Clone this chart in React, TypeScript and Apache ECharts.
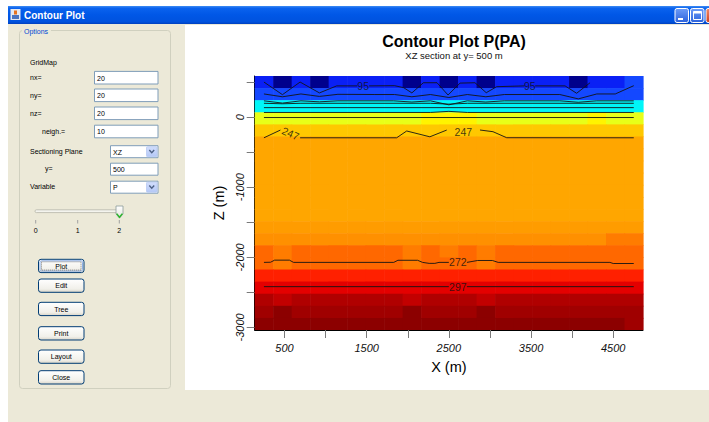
import React, { useEffect, useRef } from "react";
import * as echarts from "echarts";

// ---------- data ----------
const xNodes = [250, 475, 700, 925, 1150, 1375, 1600, 1825, 2050, 2275, 2500, 2725, 2950, 3175, 3400, 3625, 3850, 4075, 4300, 4525, 4750];
const zNodes = [500, 327.5, 155, -17.5, -190, -362.5, -535, -707.5, -880, -1052.5, -1225, -1397.5, -1570, -1742.5, -1915, -2087.5, -2260, -2432.5, -2605, -2777.5, -2950];

// pressure per cell (rows from top z=500 to bottom z=-2950, columns along x)
const pRows = [
  [85, 60, 85, 60, 85, 85, 85, 85, 60, 85, 60, 85, 60, 85, 80, 80, 85, 60, 88, 88, 105],
  [115, 115, 115, 115, 115, 115, 115, 115, 115, 115, 115, 115, 115, 115, 115, 115, 115, 115, 115, 115, 115],
  [170, 170, 170, 170, 170, 170, 170, 170, 170, 170, 170, 170, 170, 170, 170, 170, 170, 170, 170, 170, 170],
  [212, 212, 212, 212, 212, 212, 212, 212, 212, 228, 228, 228, 212, 212, 212, 212, 212, 212, 228, 212, 212],
  [240, 240, 240, 240, 240, 240, 240, 240, 240, 240, 240, 240, 240, 240, 240, 240, 240, 240, 240, 240, 240],
  [252, 252, 252, 252, 252, 252, 252, 252, 252, 252, 252, 252, 252, 252, 252, 252, 252, 252, 252, 252, 252],
  [252, 252, 252, 252, 252, 252, 252, 252, 252, 252, 252, 252, 252, 252, 252, 252, 252, 252, 252, 252, 252],
  [252, 252, 252, 252, 252, 252, 252, 252, 252, 252, 252, 252, 252, 252, 252, 252, 252, 252, 252, 252, 252],
  [252, 252, 252, 252, 252, 252, 252, 252, 252, 252, 252, 252, 252, 252, 252, 252, 252, 252, 252, 252, 252],
  [252, 252, 252, 252, 252, 252, 252, 252, 252, 252, 252, 252, 252, 252, 252, 252, 252, 252, 252, 252, 252],
  [252, 252, 252, 252, 252, 252, 252, 252, 252, 252, 252, 252, 252, 252, 252, 252, 252, 252, 252, 252, 252],
  [252, 252, 252, 252, 252, 252, 252, 252, 252, 252, 252, 252, 252, 252, 252, 252, 252, 252, 252, 252, 252],
  [260, 260, 260, 260, 260, 260, 260, 260, 260, 260, 260, 260, 260, 260, 260, 260, 260, 260, 260, 260, 260],
  [265, 265, 265, 265, 265, 265, 265, 265, 265, 265, 265, 265, 265, 265, 265, 265, 265, 265, 265, 268, 268],
  [273, 269, 273, 273, 273, 273, 273, 273, 269, 273, 269, 273, 269, 273, 273, 273, 273, 273, 273, 273, 273],
  [274, 269, 274, 274, 274, 274, 274, 274, 269, 274, 274, 274, 269, 274, 274, 274, 274, 274, 274, 274, 274],
  [280, 280, 280, 280, 280, 280, 280, 280, 280, 280, 280, 280, 280, 280, 280, 280, 280, 280, 280, 280, 280],
  [290, 290, 290, 290, 290, 290, 290, 290, 290, 290, 290, 290, 290, 290, 290, 290, 290, 290, 290, 290, 290],
  [305, 298, 305, 305, 305, 305, 305, 305, 298, 305, 305, 305, 298, 305, 305, 305, 305, 305, 305, 305, 305],
  [311, 318, 311, 311, 311, 311, 311, 311, 318, 311, 311, 311, 318, 311, 311, 311, 311, 311, 311, 311, 311],
  [318, 318, 318, 318, 318, 318, 318, 318, 318, 318, 318, 318, 318, 318, 318, 318, 318, 318, 318, 318, 311],
];

const xTickValues = [500, 1000, 1500, 2000, 2500, 3000, 3500, 4000, 4500];
const xLabelValues = [500, 1500, 2500, 3500, 4500];
const zTickValues = [-3000, -2500, -2000, -1500, -1000, -500, 0, 500];
const zLabelValues = [-3000, -2000, -1000, 0];

// contour polylines [x, z]; null = gap (label position)
const contour95 = [[250, 500], [475, 320], [690, 500], [925, 345], [1135, 445], [1385, 445], null, [1530, 445], [1840, 448], [1950, 420], [2050, 345], [2190, 490], [2356, 490], [2490, 315], [2636, 485], [2818, 490], [2955, 348], [3082, 434], [3420, 445], null, [3550, 445], [3914, 445], [4055, 340], [4218, 490]];
const contour120 = [[250, 330], [475, 290], [700, 330], [925, 295], [1150, 325], [1600, 322], [1840, 322], [2050, 290], [2275, 322], [2500, 280], [2725, 322], [2950, 290], [3175, 322], [3850, 322], [4075, 260], [4300, 330], [4525, 330], [4750, 448]];
const contour145 = [[250, 232], [475, 200], [700, 232], [925, 218], [1150, 232], [1825, 232], [2050, 215], [2275, 232], [2500, 175], [2725, 232], [2950, 215], [3175, 232], [3850, 232], [4075, 212], [4300, 232], [4750, 232]];
const contour171 = [[250, 197], [475, 190], [700, 197], [2275, 197], [2500, 185], [2725, 197], [4750, 197]];
const contour196 = [[250, 135], [4750, 135]];
const contour221 = [[250, 66], [2275, 66], [2500, 82], [2725, 66], [4750, 66]];
const contour234 = [[250, -6], [4750, -6]];
const contour247 = [[250, -295], [450, -185], null, [690, -295], [1865, -295], [1987, -198], [2269, -281], [2474, -185], null, [2879, -184], [3037, -208], [3204, -294], [4750, -295]];
const contour272 = [[250, -2072], [330, -2070], [380, -2040], [560, -2040], [610, -2072], [1830, -2072], [1880, -2042], [2120, -2042], [2180, -2072], [2260, -2086], [2330, -2086], [2380, -2072], [2500, -2072], null, [2720, -2072], [2850, -2045], [3030, -2045], [3100, -2072], [4460, -2072], [4500, -2088], [4750, -2088]];
const contour297 = [[250, -2418], [2500, -2418], null, [2720, -2418], [4750, -2418]];

const labelText = ["95", "95", "247", "247", "272", "297"];
const labelX = [1457, 3485, 575, 2676, 2610, 2610];
const labelZ = [445, 445, -231, -213, -2070, -2418];
const labelRotate = [0, 0, -24, 0, 0, 0];

const bandEdges = [0, 70, 100, 140, 200, 225, 232, 246, 258, 263, 267, 271, 276, 285, 295, 302, 308, 314];

const fieldLabels = ["nx=", "ny=", "nz=", "neigh.="];
const fieldValues = ["20", "20", "20", "10"];
const comboLabels = ["Sectioning Plane", "y=", "Variable"];
const comboValues = ["XZ", "500", "P"];
const sliderLabels = ["0", "1", "2"];
const buttonLabels = ["Plot", "Edit", "Tree", "Print", "Layout", "Close"];

// ---------- styles ----------
const FONT = "'Liberation Sans', Arial, sans-serif";
const bandColors = ["#00008c", "#0a20f5", "#1448ff", "#00f6f8", "#e8ff18", "#fff400", "#ffc800", "#ffa600", "#ff9c00", "#ff9000", "#ff7c00", "#ff6800", "#ff2000", "#e40000", "#c20000", "#b00000", "#a00000", "#8c0000"];

function buildGraphic(): any[] {
  const g: any[] = [];
  const lg = (stops: [number, string][]) =>
    new echarts.graphic.LinearGradient(0, 0, 0, 1, stops.map(([offset, color]) => ({ offset, color })));
  const txt = (text: string, x: number, y: number, extra: any = {}) => ({
    type: "text",
    x,
    y,
    style: { text, fill: "#000", fontSize: 7, fontFamily: FONT, verticalAlign: "middle", align: "left", ...extra },
  });

  g.push({ type: "rect", shape: { x: 0, y: 0, width: 709, height: 422 }, style: { fill: "#ffffff" } });
  g.push({ type: "rect", shape: { x: 8, y: 24, width: 701, height: 398 }, style: { fill: "#ece9d8" } });
  // title bar
  g.push({
    type: "rect",
    shape: { x: 8, y: 6, width: 701, height: 18 },
    style: { fill: lg([[0, "#3f8cf3"], [0.12, "#0a62ee"], [0.5, "#0057e6"], [0.88, "#0052de"], [1, "#003fbd"]]) },
  });
  g.push({ type: "rect", shape: { x: 10.5, y: 9, width: 10, height: 11 }, style: { fill: "#e4e8f0" } });
  g.push({ type: "rect", shape: { x: 12, y: 15, width: 7, height: 4 }, style: { fill: "#4a74c0" } });
  g.push({ type: "rect", shape: { x: 14, y: 10.5, width: 3, height: 4 }, style: { fill: "#e8731e" } });
  g.push(txt("Contour Plot", 24, 15.5, { fill: "#ffffff", fontWeight: "bold", fontSize: 10 }));
  // window buttons
  g.push({
    type: "rect",
    shape: { x: 675, y: 8.5, width: 13.5, height: 14, r: 2 },
    style: { fill: lg([[0, "#6d9cf7"], [1, "#2c62dc"]]), stroke: "#ffffff", lineWidth: 1 },
  });
  g.push({ type: "rect", shape: { x: 678, y: 18, width: 5, height: 2 }, style: { fill: "#ffffff" } });
  g.push({
    type: "rect",
    shape: { x: 690.5, y: 8.5, width: 13.5, height: 14, r: 2 },
    style: { fill: lg([[0, "#6d9cf7"], [1, "#2c62dc"]]), stroke: "#ffffff", lineWidth: 1 },
  });
  g.push({ type: "rect", shape: { x: 693.5, y: 11.5, width: 8, height: 8 }, style: { fill: "none", stroke: "#ffffff", lineWidth: 1 } });
  g.push({ type: "rect", shape: { x: 693.5, y: 11.5, width: 8, height: 2 }, style: { fill: "#ffffff" } });
  g.push({
    type: "rect",
    shape: { x: 706, y: 8.5, width: 13.5, height: 14, r: 2 },
    style: { fill: lg([[0, "#f08a6a"], [1, "#d0401c"]]), stroke: "#ffffff", lineWidth: 1 },
  });
  // white plot panel
  g.push({ type: "rect", shape: { x: 185, y: 25, width: 524, height: 365 }, style: { fill: "#ffffff" } });
  // options group box
  g.push({
    type: "rect",
    shape: { x: 19.5, y: 30.5, width: 151, height: 358, r: 3 },
    style: { fill: "none", stroke: "#d0d0bf", lineWidth: 1 },
  });
  g.push({ type: "rect", shape: { x: 22, y: 27, width: 29, height: 8 }, style: { fill: "#ece9d8" } });
  g.push(txt("Options", 24, 31.5, { fill: "#0046d5" }));
  g.push(txt("GridMap", 30, 62));

  const fieldY = [77.7, 95.3, 113.3, 131.5];
  fieldLabels.forEach((lab, k) => {
    g.push(txt(lab, k === 3 ? 42 : 30, fieldY[k]));
    g.push({
      type: "rect",
      shape: { x: 94.5, y: fieldY[k] - 6.3, width: 63.5, height: 12.6 },
      style: { fill: "#ffffff", stroke: "#7f9db9", lineWidth: 1 },
    });
    g.push(txt(fieldValues[k], 97, fieldY[k] + 0.3));
  });

  const comboY = [151.7, 169.2, 187.2];
  comboLabels.forEach((lab, k) => {
    g.push(txt(lab, k === 1 ? 45 : 30, comboY[k] - 0.5));
    g.push({
      type: "rect",
      shape: { x: 110.5, y: comboY[k] - 6, width: 47.5, height: 12 },
      style: { fill: "#ffffff", stroke: "#7f9db9", lineWidth: 1 },
    });
    g.push(txt(comboValues[k], 113, comboY[k] + 0.3));
    if (k !== 1) {
      g.push({
        type: "rect",
        shape: { x: 146.5, y: comboY[k] - 5, width: 10.5, height: 10, r: 1 },
        style: { fill: lg([[0, "#d2defc"], [1, "#b4c8f6"]]), stroke: "#b8c9f3", lineWidth: 0.8 },
      });
      g.push({
        type: "polyline",
        shape: { points: [[149.3, comboY[k] - 1.6], [151.75, comboY[k] + 1], [154.2, comboY[k] - 1.6]] },
        style: { stroke: "#4d6185", lineWidth: 1.4, fill: "none" },
      });
    }
  });

  // slider
  g.push({
    type: "rect",
    shape: { x: 35, y: 209.8, width: 87, height: 2.8, r: 1.4 },
    style: { fill: "#f4f4ee", stroke: "#b5b5a8", lineWidth: 0.8 },
  });
  const tickX = [35.7, 77.7, 119.3];
  tickX.forEach((x, k) => {
    g.push({ type: "line", shape: { x1: x, y1: 220, x2: x, y2: 223.5 }, style: { stroke: "#a0a0a0", lineWidth: 1 } });
    g.push(txt(sliderLabels[k], x, 230.3, { align: "center" }));
  });
  g.push({
    type: "polygon",
    shape: { points: [[116, 206], [123, 206], [123, 214], [119.5, 218], [116, 214]] },
    style: { fill: lg([[0, "#ffffff"], [1, "#e4e4dc"]]), stroke: "#8c9a9a", lineWidth: 0.8 },
  });
  g.push({
    type: "polyline",
    shape: { points: [[116.6, 213.6], [119.5, 217.2], [122.4, 213.6]] },
    style: { stroke: "#2db52d", lineWidth: 1.5, fill: "none" },
  });

  // buttons
  const btnY = [259.3, 279, 302.3, 326.7, 350, 370.7];
  buttonLabels.forEach((lab, k) => {
    g.push({
      type: "rect",
      shape: { x: 38.5, y: btnY[k], width: 45.5, height: 13.3, r: 2.5 },
      style: { fill: lg([[0, "#ffffff"], [0.75, "#f1f0ea"], [1, "#d9d5c8"]]), stroke: "#003c74", lineWidth: 1 },
    });
    if (k === 0) {
      g.push({
        type: "rect",
        shape: { x: 40, y: btnY[k] + 1.5, width: 42.5, height: 10.3, r: 1.5 },
        style: { fill: "none", stroke: "#8eb0e6", lineWidth: 1 },
      });
      g.push({
        type: "rect",
        shape: { x: 41.5, y: btnY[k] + 2.5, width: 39.5, height: 8.3 },
        style: { fill: "none", stroke: "#333333", lineWidth: 0.6, lineDash: [1, 1] },
      });
    }
    g.push(txt(lab, 61.25, btnY[k] + 6.9, { align: "center" }));
  });
  return g;
}

function segments(line: any[]): number[][][] {
  const out: number[][][] = [];
  let cur: number[][] = [];
  line.forEach((p) => {
    if (p === null) {
      if (cur.length) out.push(cur);
      cur = [];
    } else cur.push(p);
  });
  if (cur.length) out.push(cur);
  return out;
}

function buildOption(): any {
  const dx = xNodes[1] - xNodes[0];
  const dz = zNodes[0] - zNodes[1];
  const heatData: number[][] = [];
  pRows.forEach((row, j) => row.forEach((v, i) => heatData.push([xNodes[i], zNodes[j], v])));

  const contours = [contour95, contour120, contour145, contour171, contour196, contour221, contour234, contour247, contour272, contour297];
  const lineSeries: any[] = [];
  contours.forEach((c) =>
    segments(c).forEach((seg) =>
      lineSeries.push({
        type: "line",
        data: seg,
        symbol: "none",
        silent: true,
        z: 3,
        lineStyle: { color: "#141414", width: 0.9 },
      })
    )
  );

  return {
    animation: false,
    backgroundColor: "transparent",
    textStyle: { fontFamily: FONT },
    graphic: buildGraphic(),
    title: {
      text: "Contour Plot P(PA)",
      subtext: "XZ section at y= 500 m",
      left: 449,
      top: 28,
      textAlign: "center",
      itemGap: 1,
      textStyle: { fontSize: 16, fontWeight: "bold", color: "#000", fontFamily: FONT },
      subtextStyle: { fontSize: 9.5, color: "#111", fontFamily: FONT },
    },
    grid: { left: 254.7, top: 76, width: 388.3, height: 254, containLabel: false },
    xAxis: {
      type: "value",
      min: xNodes[0] - dx / 2,
      max: xNodes[xNodes.length - 1] + dx / 2,
      axisLine: { show: true, onZero: false, lineStyle: { color: "#000", width: 1 } },
      axisTick: { show: true, length: 8, customValues: xTickValues, lineStyle: { color: "#7a7a7a", width: 1 } },
      axisLabel: {
        customValues: xLabelValues,
        formatter: (v: number) => String(v),
        fontSize: 11,
        fontStyle: "italic",
        color: "#111",
        margin: 12,
        fontFamily: FONT,
      },
      splitLine: { show: false },
      name: "X (m)",
      nameLocation: "middle",
      nameGap: 29,
      nameTextStyle: { fontSize: 14.5, color: "#000", fontFamily: FONT },
    },
    yAxis: {
      type: "value",
      min: zNodes[zNodes.length - 1] - dz / 2,
      max: zNodes[0] + dz / 2,
      axisLine: { show: true, onZero: false, lineStyle: { color: "#000", width: 1 } },
      axisTick: { show: true, length: 8, customValues: zTickValues, lineStyle: { color: "#7a7a7a", width: 1 } },
      axisLabel: {
        customValues: zLabelValues,
        formatter: (v: number) => String(v),
        fontSize: 11,
        fontStyle: "italic",
        color: "#111",
        margin: 9,
        rotate: 90,
        fontFamily: FONT,
      },
      splitLine: { show: false },
      name: "Z (m)",
      nameLocation: "middle",
      nameGap: 24,
      nameRotate: 90,
      nameTextStyle: { fontSize: 14.5, color: "#000", fontFamily: FONT },
    },
    visualMap: {
      type: "piecewise",
      show: false,
      seriesIndex: 0,
      dimension: 2,
      pieces: bandEdges.map((lo, k) => ({ gte: lo, lt: k + 1 < bandEdges.length ? bandEdges[k + 1] : 1000, color: bandColors[k] })),
    },
    series: [
      {
        type: "custom",
        data: heatData,
        encode: { x: 0, y: 1 },
        clip: true,
        silent: true,
        z: 2,
        renderItem: (params: any, api: any) => {
          const x = api.value(0);
          const z = api.value(1);
          const a = api.coord([x - dx / 2, z + dz / 2]);
          const b = api.coord([x + dx / 2, z - dz / 2]);
          return {
            type: "rect",
            shape: { x: a[0], y: a[1], width: b[0] - a[0] + 0.6, height: b[1] - a[1] + 0.6 },
            style: { fill: api.visual("color") },
          };
        },
      },
      ...lineSeries,
      {
        type: "scatter",
        symbolSize: 1,
        silent: true,
        z: 4,
        itemStyle: { color: "rgba(0,0,0,0)" },
        label: { show: true, position: "inside", color: "#111", fontSize: 10.5, fontFamily: FONT },
        data: labelX.map((x, k) => ({
          value: [x, labelZ[k]],
          label: { formatter: labelText[k], rotate: labelRotate[k] },
        })),
      },
    ],
  };
}

export default function App() {
  const ref = useRef<HTMLDivElement>(null);
  useEffect(() => {
    const chart = echarts.init(ref.current!, null, { renderer: "svg" });
    chart.setOption(buildOption());
    return () => chart.dispose();
  }, []);
  return <div ref={ref} style={{ position: "absolute", left: 0, top: 0, width: 709, height: 422 }} />;
}
